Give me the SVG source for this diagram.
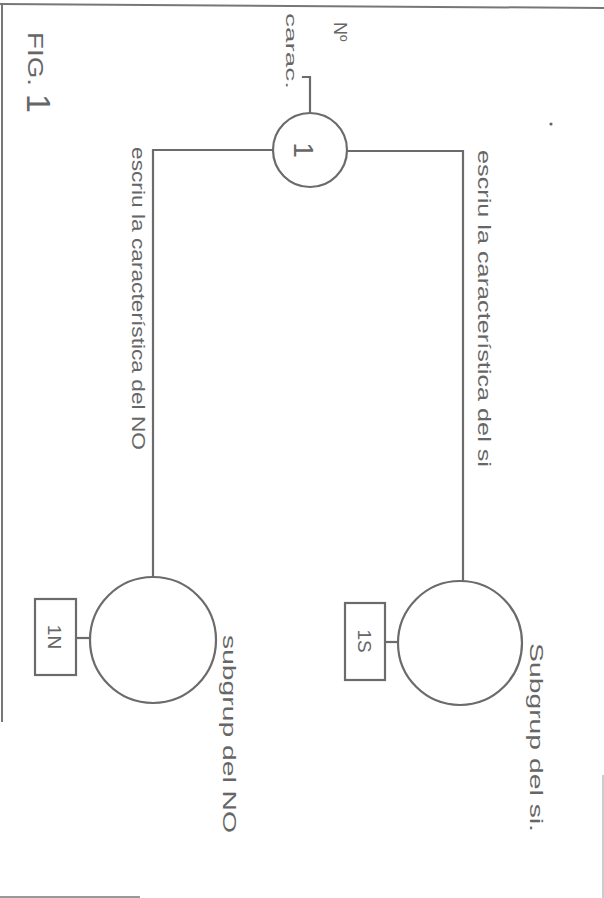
<svg xmlns="http://www.w3.org/2000/svg" width="604" height="898" viewBox="0 0 604 898">
<style>
.ln{stroke:#6b6b6b;stroke-width:2.2;fill:none;stroke-linecap:square}
.nd{stroke:#6b6b6b;stroke-width:2.2;fill:#fff}
.t{font-family:"Liberation Sans","DejaVu Sans",sans-serif;fill:#666}
.frame{stroke:#777;stroke-width:2;fill:none}
</style>
<rect width="604" height="898" fill="#fff"/>
<g id="frame">
<path class="frame" d="M0 4 L604 8"/>
<path class="frame" d="M2 4 L2 722"/>
<path d="M0 897 L140 897" stroke="#999" stroke-width="2"/>
<path d="M603 775 L603 898" stroke="#bbb" stroke-width="1.5"/>
<circle cx="551" cy="124" r="1.6" fill="#666"/>
</g>
<g id="title">
<text class="t" font-size="22" transform="translate(28,32) rotate(90)" textLength="54" lengthAdjust="spacingAndGlyphs">FIG.</text>
<text class="t" font-size="34" transform="translate(27,94) rotate(90)">1</text>
</g>
<g id="connectors">
<path class="ln" d="M310 113 L310 77 L303 77"/>
<path class="ln" d="M273 150 L153 150 L153 577"/>
<path class="ln" d="M347 151 L463 151 L463 582"/>
<path class="ln" d="M76 638 L90 638"/>
<path class="ln" d="M385 642 L398 642"/>
</g>
<g id="label-carac">
<text class="t" font-size="14" transform="translate(286,13) rotate(90)" textLength="76" lengthAdjust="spacingAndGlyphs">carac.</text>
<text class="t" font-size="18" transform="translate(334,22) rotate(90)">Nº</text>
</g>
<g id="node-1">
<circle class="nd" cx="310" cy="150" r="37"/>
<text class="t" font-size="28" text-anchor="middle" transform="translate(294,150) rotate(90)">1</text>
</g>
<g id="label-no">
<text class="t" font-size="19" transform="translate(132,147) rotate(90)" textLength="303" lengthAdjust="spacingAndGlyphs">escriu la característica del NO</text>
</g>
<g id="label-si">
<text class="t" font-size="19" transform="translate(478,150) rotate(90)" textLength="317" lengthAdjust="spacingAndGlyphs">escriu la característica del si</text>
</g>
<g id="node-1N">
<circle class="nd" cx="153" cy="640" r="63"/>
<rect class="nd" x="35" y="599" width="41" height="76"/>
<text class="t" font-size="19" text-anchor="middle" transform="translate(48,637) rotate(90)">1N</text>
<text class="t" font-size="19" transform="translate(223,635) rotate(90)" textLength="198" lengthAdjust="spacingAndGlyphs">subgrup del NO</text>
</g>
<g id="node-1S">
<circle class="nd" cx="460" cy="643" r="62"/>
<rect class="nd" x="345" y="603" width="40" height="77"/>
<text class="t" font-size="19" text-anchor="middle" transform="translate(358,641) rotate(90)">1S</text>
<text class="t" font-size="19" transform="translate(530,643) rotate(90)" textLength="189" lengthAdjust="spacingAndGlyphs">Subgrup del si.</text>
</g>
</svg>
